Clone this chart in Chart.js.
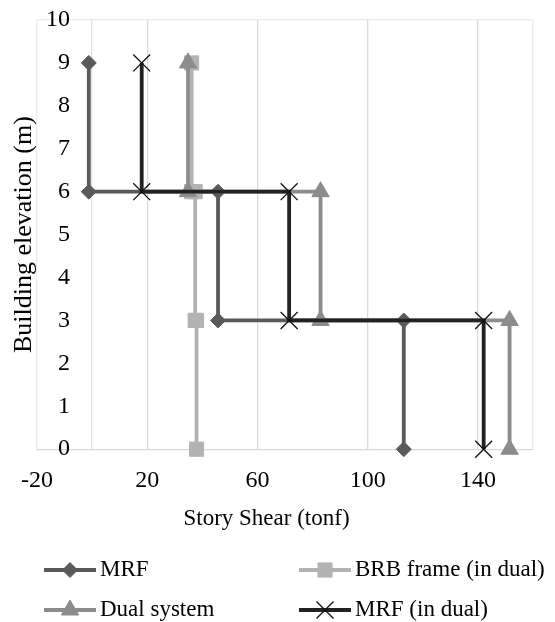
<!DOCTYPE html>
<html>
<head>
<meta charset="utf-8">
<script src="https://cdn.jsdelivr.net/npm/chart.js@4.4.1/dist/chart.umd.min.js"></script>
<style>
  html, body { margin: 0; padding: 0; background: #fff; }
  #wrap { width: 555px; height: 622px; position: relative; }
  #probe { position: absolute; left: -9999px; top: 0; font: 24px "Liberation Serif", "Times New Roman", "DejaVu Serif", serif; }
</style>
</head>
<body>
<div id="wrap"><canvas id="chart" width="555" height="622"></canvas></div>
<span id="probe">Story Shear 0123456789</span>
<script>
// story shear, 6 points per series (top to bottom)
const seriesNames = ['MRF', 'BRB frame (in dual)', 'Dual system', 'MRF (in dual)'];
const elevation = [9, 6, 6, 3, 3, 0];
const mrfShear = [-1.2, -1.2, 45.7, 45.7, 113.1, 113.1];
const brbShear = [36.1, 36.1, 37.4, 37.4, 37.9, 37.9];
const dualShear = [34.8, 34.8, 82.9, 82.9, 151.5, 151.5];
const mrfDualShear = [18.0, 18.0, 71.5, 71.5, 142.1, 142.1];

const xTickValues = [-20, 0, 20, 60, 100, 140, 160];
const xTickLabels = ['-20', '', '20', '60', '100', '140', ''];

const FONT = '"Liberation Serif", "Times New Roman", "DejaVu Serif", serif';

function points(xs) {
  return xs.map((x, i) => ({ x: x, y: elevation[i] }));
}

function series(i, xs, color, style, radius, order, markerBorder) {
  return {
    label: seriesNames[i],
    data: points(xs),
    showLine: true,
    borderColor: color,
    backgroundColor: color,
    borderWidth: 3.8,
    pointStyle: style,
    pointRadius: radius,
    pointHoverRadius: radius,
    pointBackgroundColor: color,
    pointBorderColor: markerBorder || color,
    pointBorderWidth: markerBorder ? 1.3 : 1,
    tension: 0,
    clip: false,
    order: order
  };
}

// legend drawn as two columns like the original
const legendGrid = {
  id: 'legendGrid',
  afterDraw(chart) {
    const ctx = chart.ctx;
    const cols = [44, 299];
    const rows = [570, 610];
    ctx.save();
    chart.data.datasets.forEach((ds, i) => {
      const x0 = cols[i % 2];
      const y = rows[Math.floor(i / 2)];
      ctx.strokeStyle = ds.borderColor;
      ctx.lineWidth = ds.borderWidth;
      ctx.beginPath();
      ctx.moveTo(x0, y);
      ctx.lineTo(x0 + 52, y);
      ctx.stroke();
      ctx.fillStyle = ds.pointBackgroundColor;
      ctx.strokeStyle = ds.pointBorderColor;
      ctx.lineWidth = ds.pointBorderWidth;
      Chart.helpers.drawPoint(ctx, {
        pointStyle: ds.pointStyle, radius: ds.pointRadius, rotation: 0, borderWidth: ds.pointBorderWidth
      }, x0 + 26, y);
      ctx.fillStyle = '#000';
      ctx.font = '23px ' + FONT;
      ctx.textBaseline = 'middle';
      ctx.textAlign = 'left';
      ctx.fillText(ds.label, x0 + 56, y);
    });
    ctx.restore();
  }
};

function draw() {
  new Chart(document.getElementById('chart'), {
    type: 'scatter',
    data: {
      datasets: [
        series(0, mrfShear, '#5a5a5a', 'rectRot', 7.5, 4),
        series(1, brbShear, '#b3b3b3', 'rect', 10, 3),
        series(2, dualShear, '#8c8c8c', 'triangle', 10, 2),
        series(3, mrfDualShear, '#222222', 'crossRot', 12, 1, '#111111')
      ]
    },
    options: {
      responsive: false,
      animation: false,
      layout: { padding: { left: 0, top: 20, right: 22, bottom: 92 } },
      plugins: {
        legend: { display: false },
        tooltip: { enabled: false },
        // horizontal axis caption, centred on the whole figure as in the original
        title: {
          display: true,
          position: 'bottom',
          text: 'Story Shear (tonf)',
          color: '#000',
          font: { family: FONT, size: 23, weight: 'normal', lineHeight: 1 },
          padding: { top: -5, bottom: 0 }
        }
      },
      scales: {
        x: {
          type: 'linear',
          position: 'bottom',
          min: -20,
          max: 160,
          afterBuildTicks: (scale) => { scale.ticks = xTickValues.map(v => ({ value: v })); },
          ticks: {
            autoSkip: false,
            maxRotation: 0,
            padding: 17,
            color: '#000',
            font: { family: FONT, size: 24 },
            callback: (value) => xTickLabels[xTickValues.indexOf(value)]
          },
          grid: {
            drawTicks: false,
            lineWidth: 1.3,
            color: (c) => {
              const v = c.tick.value;
              if (v === -20 || v === 160) return '#ececec';
              if (v === 0) return '#e2e2e2';
              return '#d9d9d9';
            }
          },
          border: { color: '#d9d9d9', width: 1.3 }
        },
        y: {
          type: 'linear',
          position: 'left',
          min: 0,
          max: 10,
          ticks: { display: false, stepSize: 1 },
          grid: {
            drawTicks: false,
            lineWidth: 1.3,
            color: (c) => c.tick.value === 10 ? '#ececec' : 'rgba(0,0,0,0)'
          },
          border: { display: false },
          title: {
            display: true,
            text: 'Building elevation (m)',
            color: '#000',
            font: { family: FONT, size: 26, lineHeight: 1 },
            padding: { top: 11, bottom: 0 }
          }
        },
        // elevation labels sit beside the vertical axis, as in the original
        yLabels: {
          axis: 'y',
          type: 'linear',
          position: { x: -8 },
          min: 0,
          max: 10,
          ticks: {
            stepSize: 1,
            color: '#000',
            font: { family: FONT, size: 24 }
          },
          grid: { display: false },
          border: { display: false }
        }
      }
    },
    plugins: [legendGrid]
  });
}

if (document.fonts && document.fonts.load) {
  document.fonts.load('24px "Liberation Serif"').then(draw, draw);
} else {
  draw();
}
</script>
</body>
</html>
